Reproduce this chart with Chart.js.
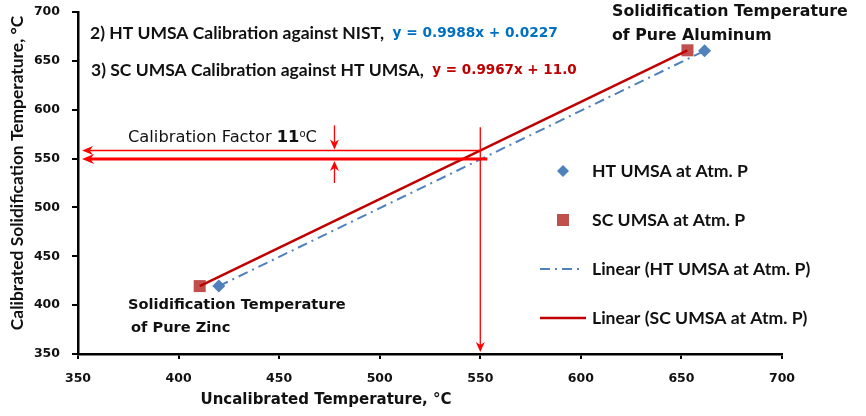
<!DOCTYPE html>
<html><head><meta charset="utf-8">
<script src="https://cdn.jsdelivr.net/npm/chart.js@4"></script>
<style>html,body{margin:0;padding:0;background:#fff}#wrap{width:866px;height:416px}</style>
</head><body><div id="wrap"><canvas id="c" width="866" height="416"></canvas></div>
<script>
// ---- data ----
const xTicks = [350, 400, 450, 500, 550, 600, 650, 700];
const yTicks = [350, 400, 450, 500, 550, 600, 650, 700];
const htX = [420, 661.5];      // HT UMSA measured (uncalibrated)
const htY = [419.5, 660.3];    // NIST solidification temperature
const scX = [410.5, 653];      // SC UMSA measured (uncalibrated)
const scY = [419.5, 660.8];    // HT UMSA calibrated temperature
const readX = 550;             // uncalibrated reading marked by arrow
const readTopY = 582;          // top of vertical marker line
const calibSC = 558.3;         // SC calibration value at readX
const calibHT = 549.6;         // HT calibration value at readX
const calibSCEndX = 550;
const calibHTEndX = 553.5;
const factorX = 477.5;
const factorTop = 584;
const factorBottom = 525;
const seriesNames = ['HT UMSA at Atm. P', 'SC UMSA at Atm. P', 'Linear (HT UMSA at Atm. P)', 'Linear (SC UMSA at Atm. P)'];

const BLUE = '#4f81bd', RED_M = '#c0504d', RED_L = '#c00000', ARROW = '#ff0000';
const TXT = '#111';

function pts(xs, ys) { return xs.map((x, i) => ({ x: x, y: ys[i] })); }

function head(ctx, x, y, dir, len, w) {
  ctx.beginPath();
  if (dir === 'left') { ctx.moveTo(x, y); ctx.lineTo(x + len, y - w / 2); ctx.lineTo(x + len * 0.7, y); ctx.lineTo(x + len, y + w / 2); }
  if (dir === 'down') { ctx.moveTo(x, y); ctx.lineTo(x - w / 2, y - len); ctx.lineTo(x, y - len * 0.7); ctx.lineTo(x + w / 2, y - len); }
  if (dir === 'up') { ctx.moveTo(x, y); ctx.lineTo(x - w / 2, y + len); ctx.lineTo(x, y + len * 0.7); ctx.lineTo(x + w / 2, y + len); }
  ctx.closePath(); ctx.fill();
}
function seg(ctx, x1, y1, x2, y2, lw) {
  ctx.beginPath(); ctx.lineWidth = lw; ctx.moveTo(x1, y1); ctx.lineTo(x2, y2); ctx.stroke();
}
function runs(ctx, x, y, parts) {
  let cx = x;
  for (const p of parts) {
    ctx.font = p.f; ctx.fillStyle = p.c || TXT;
    ctx.fillText(p.t, cx, y + (p.dy || 0));
    cx += ctx.measureText(p.t).width;
  }
}

const annot = {
  id: 'annot',
  afterDatasetsDraw(chart) {
    const ctx = chart.ctx, xs = chart.scales.x, ys = chart.scales.y;
    const px = v => xs.getPixelForValue(v), py = v => ys.getPixelForValue(v);
    ctx.save();
    ctx.strokeStyle = ARROW; ctx.fillStyle = ARROW;
    const vx = px(readX);
    seg(ctx, vx, py(readTopY), vx, py(yTicks[0]) - 8, 1.3);
    head(ctx, vx, py(yTicks[0]) - 2, 'down', 10, 9);
    const leftTip = px(xTicks[0]) + 4;
    seg(ctx, px(calibSCEndX), py(calibSC), leftTip + 8, py(calibSC), 1.5);
    head(ctx, leftTip, py(calibSC), 'left', 11, 9);
    seg(ctx, px(calibHTEndX), py(calibHT), leftTip + 8, py(calibHT), 3);
    head(ctx, leftTip, py(calibHT), 'left', 12, 10);
    const fx = px(factorX);
    seg(ctx, fx, py(factorTop), fx, py(calibSC) - 8, 1.3);
    head(ctx, fx, py(calibSC) - 1, 'down', 10, 9);
    seg(ctx, fx, py(factorBottom), fx, py(calibHT) + 8, 1.3);
    head(ctx, fx, py(calibHT) + 2, 'up', 10, 9);
    ctx.restore();
  },
  afterDraw(chart) {
    const ctx = chart.ctx;
    ctx.save();
    ctx.textBaseline = 'middle'; ctx.textAlign = 'left';
    const cal = 'bold 17.5px Lato';
    runs(ctx, 90, 33, [{ t: '2) HT UMSA Calibration against NIST,  ', f: cal }, { t: 'y = 0.9988x + 0.0227', f: 'bold 13.7px "DejaVu Sans"', c: '#0070c0' }]);
    runs(ctx, 91, 70, [{ t: '3) SC UMSA Calibration against HT UMSA,  ', f: cal }, { t: 'y = 0.9967x + 11.0', f: 'bold 13.5px "DejaVu Sans"', c: RED_L }]);
    const va = 'bold 15.8px "DejaVu Sans"';
    runs(ctx, 612, 12, [{ t: 'Solidification Temperature', f: va }]);
    runs(ctx, 612, 36, [{ t: 'of Pure Aluminum', f: va }]);
    const vz = 'bold 14.6px "DejaVu Sans"';
    runs(ctx, 128, 305, [{ t: 'Solidification Temperature', f: vz }]);
    runs(ctx, 131, 328, [{ t: 'of Pure Zinc', f: vz }]);
    const nf = '16.3px "DejaVu Sans"';
    runs(ctx, 128, 138, [{ t: 'Calibration Factor ', f: nf }, { t: '11', f: 'bold 16.3px "DejaVu Sans"' }, { t: 'o', f: '10px "DejaVu Sans"', dy: -4 }, { t: 'C', f: nf }]);
    // legend
    const lf = 'bold 17.6px Lato';
    ctx.fillStyle = BLUE;
    ctx.beginPath(); ctx.moveTo(563, 165); ctx.lineTo(569, 171); ctx.lineTo(563, 177); ctx.lineTo(557, 171); ctx.closePath(); ctx.fill();
    ctx.fillStyle = RED_M; ctx.fillRect(557, 214, 12, 12);
    ctx.strokeStyle = BLUE; ctx.lineWidth = 2; ctx.setLineDash([10, 5, 2, 5]);
    ctx.beginPath(); ctx.moveTo(540, 269); ctx.lineTo(580, 269); ctx.stroke();
    ctx.setLineDash([]); ctx.strokeStyle = RED_L; ctx.lineWidth = 2.5;
    ctx.beginPath(); ctx.moveTo(540, 318); ctx.lineTo(586, 318); ctx.stroke();
    const ly = [171, 220, 269, 318];
    seriesNames.forEach((n, i) => runs(ctx, 592, ly[i], [{ t: n, f: lf }]));
    // axis titles
    ctx.textAlign = 'center';
    ctx.font = 'bold 15px "DejaVu Sans"'; ctx.fillStyle = TXT;
    ctx.fillText('Uncalibrated Temperature, \u00B0C', 326, 400);
    ctx.translate(17, 173); ctx.rotate(-Math.PI / 2);
    ctx.font = 'bold 17.4px Lato';
    ctx.fillText('Calibrated Solidification Temperature, \u00B0C', 0, 0);
    ctx.restore();
  }
};

new Chart(document.getElementById('c'), {
  type: 'scatter',
  data: {
    datasets: [
      { label: seriesNames[2], data: pts(htX, htY), showLine: true, borderColor: BLUE, borderWidth: 2, borderDash: [10, 5, 2, 5], pointRadius: 0, fill: false },
      { label: seriesNames[3], data: pts(scX, scY), showLine: true, borderColor: RED_L, borderWidth: 2.5, pointRadius: 0, fill: false },
      { label: seriesNames[0], data: pts(htX, htY), pointStyle: 'rectRot', pointRadius: 6.5, backgroundColor: BLUE, borderWidth: 0 },
      { label: seriesNames[1], data: pts(scX, scY), pointStyle: 'rect', pointRadius: 8.5, backgroundColor: RED_M, borderWidth: 0 }
    ]
  },
  options: {
    responsive: false, animation: false, devicePixelRatio: 1,
    layout: { padding: { top: 12, right: 84, left: 0, bottom: 0 } },
    plugins: { legend: { display: false }, tooltip: { enabled: false } },
    scales: {
      x: {
        type: 'linear', min: xTicks[0], max: xTicks[xTicks.length - 1],
        afterBuildTicks: s => { s.ticks = xTicks.map(v => ({ value: v })); },
        afterFit: s => { s.height = 62; s.paddingLeft = 0; s.paddingRight = 0; },
        grid: { drawOnChartArea: false, drawTicks: true, tickLength: 5, color: '#000', lineWidth: 2 },
        border: { display: true, color: '#000', width: 2.5 },
        ticks: { padding: 12, color: TXT, font: { family: '"DejaVu Sans"', size: 12.5, weight: 'bold' }, maxRotation: 0 }
      },
      y: {
        type: 'linear', min: yTicks[0], max: yTicks[yTicks.length - 1],
        afterBuildTicks: s => { s.ticks = yTicks.map(v => ({ value: v })); },
        afterFit: s => { s.width = 78; s.paddingTop = 0; s.paddingBottom = 0; },
        grid: { drawOnChartArea: false, drawTicks: true, tickLength: 6, color: '#000', lineWidth: 2 },
        border: { display: true, color: '#000', width: 2.5 },
        ticks: { padding: 12, color: TXT, font: { family: '"DejaVu Sans"', size: 12.5, weight: 'bold' } }
      }
    }
  },
  plugins: [annot]
});
</script>
</body></html>
